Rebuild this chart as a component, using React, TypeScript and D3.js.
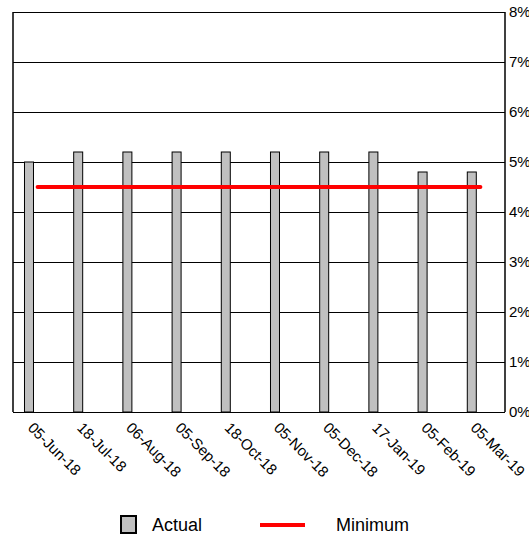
import React from "react";
import * as d3 from "d3";

const categories = ["05-Jun-18", "18-Jul-18", "06-Aug-18", "05-Sep-18", "18-Oct-18", "05-Nov-18", "05-Dec-18", "17-Jan-19", "05-Feb-19", "05-Mar-19"];
const actual = [5.0, 5.2, 5.2, 5.2, 5.2, 5.2, 5.2, 5.2, 4.8, 4.8];
const minimum = [4.5, 4.5, 4.5, 4.5, 4.5, 4.5, 4.5, 4.5, 4.5, 4.5];
const yTicks = [0, 1, 2, 3, 4, 5, 6, 7, 8];

const W = 529, H = 535;
const left = 13, right = 505, top = 12, bottom = 412;
const font = "'Liberation Sans', Arial, sans-serif";

export default function App() {
  const x = d3.scaleBand<string>().domain(categories).range([left, right]).padding(0);
  const y = d3.scaleLinear().domain([0, 8]).range([bottom, top]);
  const bw = x.bandwidth();
  const barW = 9;
  const barOffset = -bw * 0.175;
  const cx = (c: string) => (x(c) as number) + bw / 2;
  const line = d3.line<number>().x((_, i) => cx(categories[i])).y((d) => y(d));

  return (
    <svg width={W} height={H} style={{ position: "absolute", left: 0, top: 0, background: "#fff" }} fontFamily={font}>
      {yTicks.map((t) => (
        <g key={t}>
          <line x1={left} x2={right} y1={y(t)} y2={y(t)} stroke="#000" strokeWidth={1} shapeRendering="crispEdges" />
          <text x={right + 4} y={y(t)} dy="0.35em" fontSize={15} fill="#000">{t}%</text>
        </g>
      ))}
      <line x1={left} x2={left} y1={top} y2={bottom} stroke="#000" strokeWidth={1.5} />
      <line x1={right} x2={right} y1={top} y2={bottom} stroke="#000" strokeWidth={1.5} />
      {actual.map((v, i) => {
        const c = categories[i];
        return (
          <rect key={c} x={cx(c) + barOffset - barW / 2} y={y(v)} width={barW} height={y(0) - y(v)} fill="#C0C0C0" stroke="#000" strokeWidth={1} />
        );
      })}
      <path d={line(minimum) || ""} fill="none" stroke="#FF0000" strokeWidth={4} strokeLinecap="round" />
      {categories.map((c) => (
        <text key={c} transform={`translate(${cx(c) - 3},${bottom + 9}) rotate(45)`} dy="0.72em" fontSize={15} fill="#000">{c}</text>
      ))}
      <rect x={121} y={516} width={15} height={17} fill="#C0C0C0" stroke="#000" strokeWidth={2} />
      <text x={152} y={531} fontSize={18} fill="#000">Actual</text>
      <line x1={260} x2={305} y1={525} y2={525} stroke="#FF0000" strokeWidth={4} />
      <text x={336} y={531} fontSize={18} fill="#000">Minimum</text>
    </svg>
  );
}
